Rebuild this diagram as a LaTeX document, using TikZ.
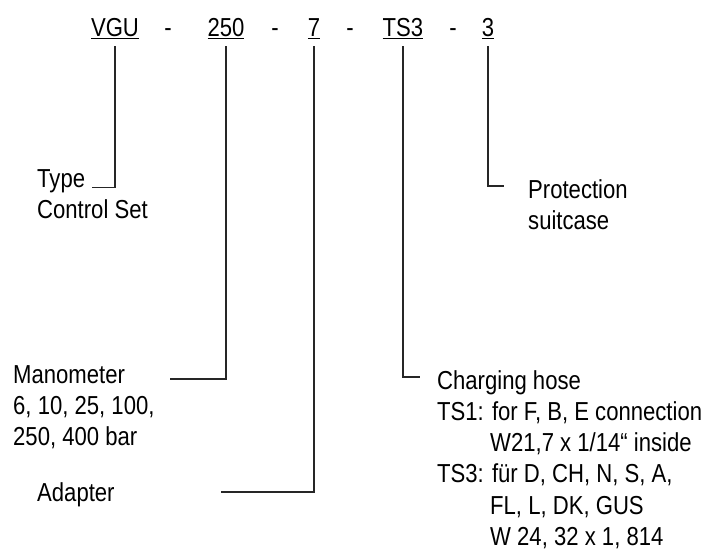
\documentclass[tikz,border=0pt]{standalone}
\usepackage{fontspec}
\setmainfont[FakeStretch=0.85]{Liberation Sans}
\usetikzlibrary{positioning}

\begin{document}
\begin{tikzpicture}[x=1pt, y=-1pt, font=\fontsize{26}{31.3}\selectfont, inner sep=0pt,
    code/.style={anchor=base},
    lbl/.style={anchor=base west, align=left},
    link/.style={line width=1.1pt, black!85}]
    \useasboundingbox (0,0) rectangle (710,551);
    % Code
    \node (vgu) [code] at (115,37) {\underline{VGU}};
    \node (d1) [code] at (168,37) {-};
    \node (pres) [code] at (226,37) {\underline{250}};
    \node (d2) [code] at (275,37) {-};
    \node (adap) [code] at (314,37) {\underline{7}};
    \node (d3) [code] at (350,37) {-};
    \node (hose) [code] at (403,37) {\underline{TS3}};
    \node (d4) [code] at (453,37) {-};
    \node (case) [code] at (488,37) {\underline{3}};

    % Labels (base = last line)
    \node (type) [lbl] at (37,218.3) {Type\\Control Set};
    \node (mano) [lbl] at (13,445.6) {Manometer\\6, 10, 25, 100,\\250, 400 bar};
    \node (adapter) [lbl] at (37,501) {Adapter};
    \node (charging) [lbl] at (437,545.5) {Charging hose\\TS1: for F, B, E connection\\\hspace*{53pt}W21,7 x 1/14“ inside\\TS3: für D, CH, N, S, A,\\\hspace*{53pt}FL, L, DK, GUS\\\hspace*{53pt}W 24, 32 x 1, 814};
    \node (protection) [lbl] at (528,229.3) {Protection\\suitcase};

    % Lines
    \draw [link] ([yshift=-7pt]vgu.south) |- ([xshift=55pt, yshift=30.5pt]type.base west);
    \draw [link] ([yshift=-7pt]pres.south) |- ([xshift=15pt, yshift=66.6pt]mano.base east);
    \draw [link] ([yshift=-7pt]adap.south) |- ([xshift=106pt, yshift=9pt]adapter.base east);
    \draw [link] ([yshift=-7pt]hose.south) |- ([xshift=-17pt, yshift=168.5pt]charging.base west);
    \draw [link] ([yshift=-7pt]case.south) |- ([xshift=-24pt, yshift=43.3pt]protection.base west);
\end{tikzpicture}
\end{document}
